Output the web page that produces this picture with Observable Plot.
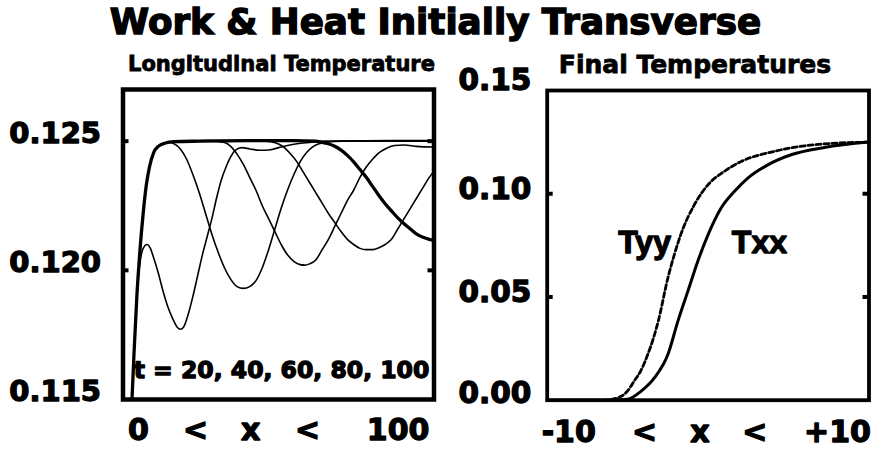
<!DOCTYPE html>
<html><head><meta charset="utf-8">
<script src="https://cdn.jsdelivr.net/npm/d3@7"></script>
<script src="https://cdn.jsdelivr.net/npm/@observablehq/plot@0.6"></script>
<style>
html,body{margin:0;padding:0;background:#fff;}
#wrap{position:relative;width:871px;height:450px;overflow:hidden;font-family:"DejaVu Sans",sans-serif;font-weight:bold;color:#000;}
.t{position:absolute;white-space:nowrap;text-align:center;line-height:1;z-index:2;-webkit-text-stroke:0.8px #000;}
#title{left:0;width:871px;top:4px;font-size:35.7px;-webkit-text-stroke:1.4px #000;}
#sub1{left:81.5px;width:400px;top:54px;font-size:21px;}
#sub2{left:495px;width:400px;top:52px;font-size:25px;}
#left{position:absolute;left:0;top:50px;}
#right{position:absolute;left:440px;top:50px;}
#left svg text, #right svg text{stroke:#000;stroke-width:1.3px;stroke-linejoin:round;}
</style></head>
<body>
<div id="wrap">
  <div id="left"></div>
  <div id="right"></div>
  <div class="t" id="title"></div>
  <div class="t" id="sub1"></div>
  <div class="t" id="sub2"></div>
</div>
<script>
// ---------- text ----------
const titleText = "Work & Heat Initially Transverse";
const leftTitle = "Longitudinal Temperature";
const rightTitle = "Final Temperatures";
const timesLabel = "t = 20, 40, 60, 80, 100";

// ---------- left panel: longitudinal temperature vs x at t = 20..100 ----------
const riseX = [3.4, 4.3, 5.2, 6.2, 7.2, 8.2, 9.2, 10.5, 12, 14];
const riseV = [0.1143, 0.1168, 0.1190, 0.1208, 0.1222, 0.1233, 0.1240, 0.12455, 0.1248, 0.12492];

const t20X = [3.4, 4.3, 5.2, 6.2, 7.2, 8.4, 9.5, 10.5, 12, 13.5, 15, 16.5, 18, 19, 20, 21.5, 23, 24.5, 26, 27.5, 29, 30.5, 32, 33.5, 35, 36.5, 38.5, 41, 44, 47, 50, 53, 56, 60, 65, 75, 90, 100];
const t20V = [0.1143, 0.1168, 0.1190, 0.1203, 0.12085, 0.1210, 0.12085, 0.1205, 0.1199, 0.1192, 0.1186, 0.11815, 0.1178, 0.11772, 0.1178, 0.1183, 0.1190, 0.1198, 0.1206, 0.1213, 0.1220, 0.1228, 0.1235, 0.1240, 0.1244, 0.12465, 0.12475, 0.1247, 0.12465, 0.12466, 0.12474, 0.12483, 0.1249, 0.12495, 0.125, 0.125, 0.125, 0.125];

const t40X = [...riseX, 15.5, 17, 19, 21, 23, 25, 27, 29, 31, 33, 35, 37, 39, 41, 43, 45, 47, 49, 51, 53, 55, 57, 59, 61, 63, 66, 70, 85, 100];
const t40V = [...riseV, 0.12495, 0.1249, 0.1247, 0.1243, 0.1237, 0.1230, 0.1222, 0.1214, 0.1207, 0.1201, 0.11965, 0.11937, 0.1193, 0.11937, 0.1196, 0.1201, 0.1208, 0.1216, 0.1224, 0.1231, 0.1237, 0.1242, 0.12455, 0.12478, 0.1249, 0.12497, 0.125, 0.12502, 0.12502];

const t60X = [...riseX, 17, 22, 28, 33, 35, 37, 39, 41, 43, 45, 47, 49, 51, 53, 55, 57, 58.5, 60, 62, 64, 66, 68, 70, 72, 74, 76, 78, 80, 82, 84, 87, 90, 94, 100];
const t60V = [...riseV, 0.12498, 0.125, 0.12502, 0.12495, 0.1248, 0.1245, 0.1241, 0.1236, 0.1231, 0.1225, 0.1220, 0.1215, 0.1210, 0.1206, 0.12035, 0.12022, 0.1202, 0.12025, 0.1204, 0.1208, 0.1212, 0.1217, 0.1222, 0.1227, 0.1231, 0.1236, 0.1240, 0.1243, 0.12455, 0.1247, 0.12483, 0.12485, 0.1248, 0.12477];

const t80X = [...riseX, 17, 22, 30, 40, 45, 48, 50, 52, 54, 56, 58, 60, 62, 64, 66, 68, 70, 72, 74, 76, 78, 80, 82, 84, 86, 88, 90, 92, 94, 96, 98, 100];
const t80V = [...riseV, 0.12498, 0.125, 0.12502, 0.12502, 0.125, 0.12497, 0.1249, 0.12475, 0.1245, 0.1242, 0.1238, 0.1234, 0.1230, 0.1226, 0.1222, 0.12185, 0.1215, 0.1212, 0.1210, 0.12085, 0.1208, 0.1208, 0.12087, 0.1210, 0.1212, 0.1216, 0.1220, 0.1224, 0.1228, 0.1232, 0.1236, 0.1239];

const t100X = [...riseX, 17, 25, 40, 55, 62, 64, 66, 68, 70, 72, 74, 76, 78, 80, 82, 84, 86, 88, 90, 92, 94, 96, 98, 100];
const t100V = [...riseV, 0.12498, 0.125, 0.12502, 0.12502, 0.125, 0.12495, 0.1249, 0.1248, 0.12465, 0.12445, 0.1242, 0.1239, 0.1236, 0.12325, 0.1229, 0.12258, 0.1223, 0.12203, 0.1218, 0.1216, 0.1214, 0.12128, 0.1212, 0.12115];

const leftYTicks = [0.115, 0.120, 0.125];
const leftInnerTicks = [0.120, 0.125];
const leftXTickAt = [5.7, 23.8, 41.3, 59.4, 88.1];
const leftXTickLabels = ["0", "<", "x", "<", "100"];

// ---------- right panel: final temperatures ----------
const tyyX = [-10, -8, -7, -6.2, -5.4, -5.0, -4.6, -4.2, -3.75, -3.4, -3.1, -2.5, -2.1, -1.7, -0.85, 0, 1.0, 2.05, 4.1, 6.2, 8, 10];
const tyyV = [0, 0, 0, 0.0002, 0.0019, 0.0045, 0.0092, 0.0140, 0.0221, 0.0300, 0.0382, 0.0592, 0.0705, 0.0802, 0.0947, 0.1044, 0.1108, 0.1156, 0.1205, 0.1234, 0.1245, 0.1250];
const txxX = [-10, -8, -6.2, -5.0, -4.16, -3.34, -2.5, -1.88, -1.26, -0.64, 0, 0.81, 1.63, 2.47, 3.71, 5.16, 7.23, 10];
const txxV = [0, 0, 0, 0.0005, 0.0044, 0.0108, 0.0221, 0.0382, 0.0527, 0.0673, 0.0802, 0.0931, 0.1011, 0.1076, 0.1140, 0.1189, 0.1224, 0.1250];

const rightInnerTicks = [0.05, 0.10];
const rightXTickAt = [-8.66, -3.95, -0.51, 2.91, 8.04];
const rightXTickLabels = ["-10", "<", "x", "<", "+10"];
const curveNames = ["Tyy", "Txx"];
const curveLabelX = [-3.95, 3.19];
const curveLabelY = [0.0765, 0.0765];

// ---------- build ----------
document.getElementById("title").textContent = titleText;
document.getElementById("sub1").textContent = leftTitle;
document.getElementById("sub2").textContent = rightTitle;

const rows = (xs, vs) => xs.map((x, i) => ({x, v: vs[i]}));
const thin = [[t20X, t20V], [t40X, t40V], [t60X, t60V], [t80X, t80V]];

const LW = 440, LML = 122.5, LMR = 6.5;
const lFrame = LW - LML - LMR;
const left = Plot.plot({
  width: LW, height: 400,
  marginLeft: LML, marginRight: LMR, marginTop: 39, marginBottom: 51,
  style: {fontFamily: "DejaVu Sans", fontWeight: "bold", background: "transparent", overflow: "visible", color: "black"},
  x: {domain: [0.8, 99.5]},
  y: {domain: [0.115, 0.127]},
  marks: [
    ...thin.map(([xs, vs]) => Plot.line(rows(xs, vs), {x: "x", y: "v", curve: "monotone-x", stroke: "black", strokeWidth: 1.6, clip: true})),
    Plot.line(rows(t100X, t100V), {x: "x", y: "v", curve: "monotone-x", stroke: "black", strokeWidth: 3.3, clip: true}),
    Plot.frame({stroke: "black", strokeWidth: 4.5}),
    Plot.ruleY(leftInnerTicks, {insetRight: lFrame - 6, strokeWidth: 4}),
    Plot.ruleY(leftInnerTicks, {insetLeft: lFrame - 6, strokeWidth: 4}),
    Plot.axisY({ticks: leftYTicks, tickFormat: d3.format(".3f"), tickSize: 0, tickPadding: 22, fontSize: 29, fontWeight: "bold", dy: -7.5, label: null}),
    Plot.axisX({ticks: leftXTickAt, tickFormat: d => leftXTickLabels[leftXTickAt.indexOf(d)], tickSize: 0, tickPadding: 19, fontSize: 30, fontWeight: "bold", label: null}),
    Plot.text([timesLabel], {text: d => d, frameAnchor: "bottom", dx: 3, dy: -22, fontSize: 23.5, fontWeight: "bold"})
  ]
});
document.getElementById("left").append(left);

const RW = 431, RML = 106.7, RMR = 2.5;
const rFrame = RW - RML - RMR;
const right = Plot.plot({
  width: RW, height: 400,
  marginLeft: RML, marginRight: RMR, marginTop: 40, marginBottom: 50.3,
  style: {fontFamily: "DejaVu Sans", fontWeight: "bold", background: "transparent", overflow: "visible", color: "black"},
  x: {domain: [-10, 10]},
  y: {domain: [0, 0.15]},
  marks: [
    Plot.line(rows(tyyX, tyyV), {x: "x", y: "v", curve: "monotone-x", stroke: "black", strokeWidth: 2.8, strokeDasharray: "5,3"}),
    Plot.line(rows(txxX, txxV), {x: "x", y: "v", curve: "monotone-x", stroke: "black", strokeWidth: 3}),
    Plot.frame({stroke: "black", strokeWidth: 3.8}),
    Plot.ruleY(rightInnerTicks, {insetRight: rFrame - 6, strokeWidth: 4}),
    Plot.ruleY(rightInnerTicks, {insetLeft: rFrame - 6, strokeWidth: 4}),
    Plot.axisY({ticks: [0.05, 0.10], tickFormat: d3.format(".2f"), tickSize: 0, tickPadding: 16, fontSize: 29.5, fontWeight: "bold", dy: -4, label: null}),
    Plot.axisY({ticks: [0], tickFormat: d3.format(".2f"), tickSize: 0, tickPadding: 16, fontSize: 29.5, fontWeight: "bold", dy: -7, label: null}),
    Plot.axisY({ticks: [0.15], tickFormat: d3.format(".2f"), tickSize: 0, tickPadding: 16, fontSize: 29.5, fontWeight: "bold", dy: -10, label: null}),
    Plot.axisX({ticks: rightXTickAt, tickFormat: d => rightXTickLabels[rightXTickAt.indexOf(d)], tickSize: 0, tickPadding: 20, fontSize: 30, fontWeight: "bold", label: null}),
    Plot.text(curveNames, {x: (d, i) => curveLabelX[i], y: (d, i) => curveLabelY[i], text: d => d, fontSize: 32, fontWeight: "bold", fontFamily: "Liberation Sans"})
  ]
});
document.getElementById("right").append(right);
</script>
</body></html>
